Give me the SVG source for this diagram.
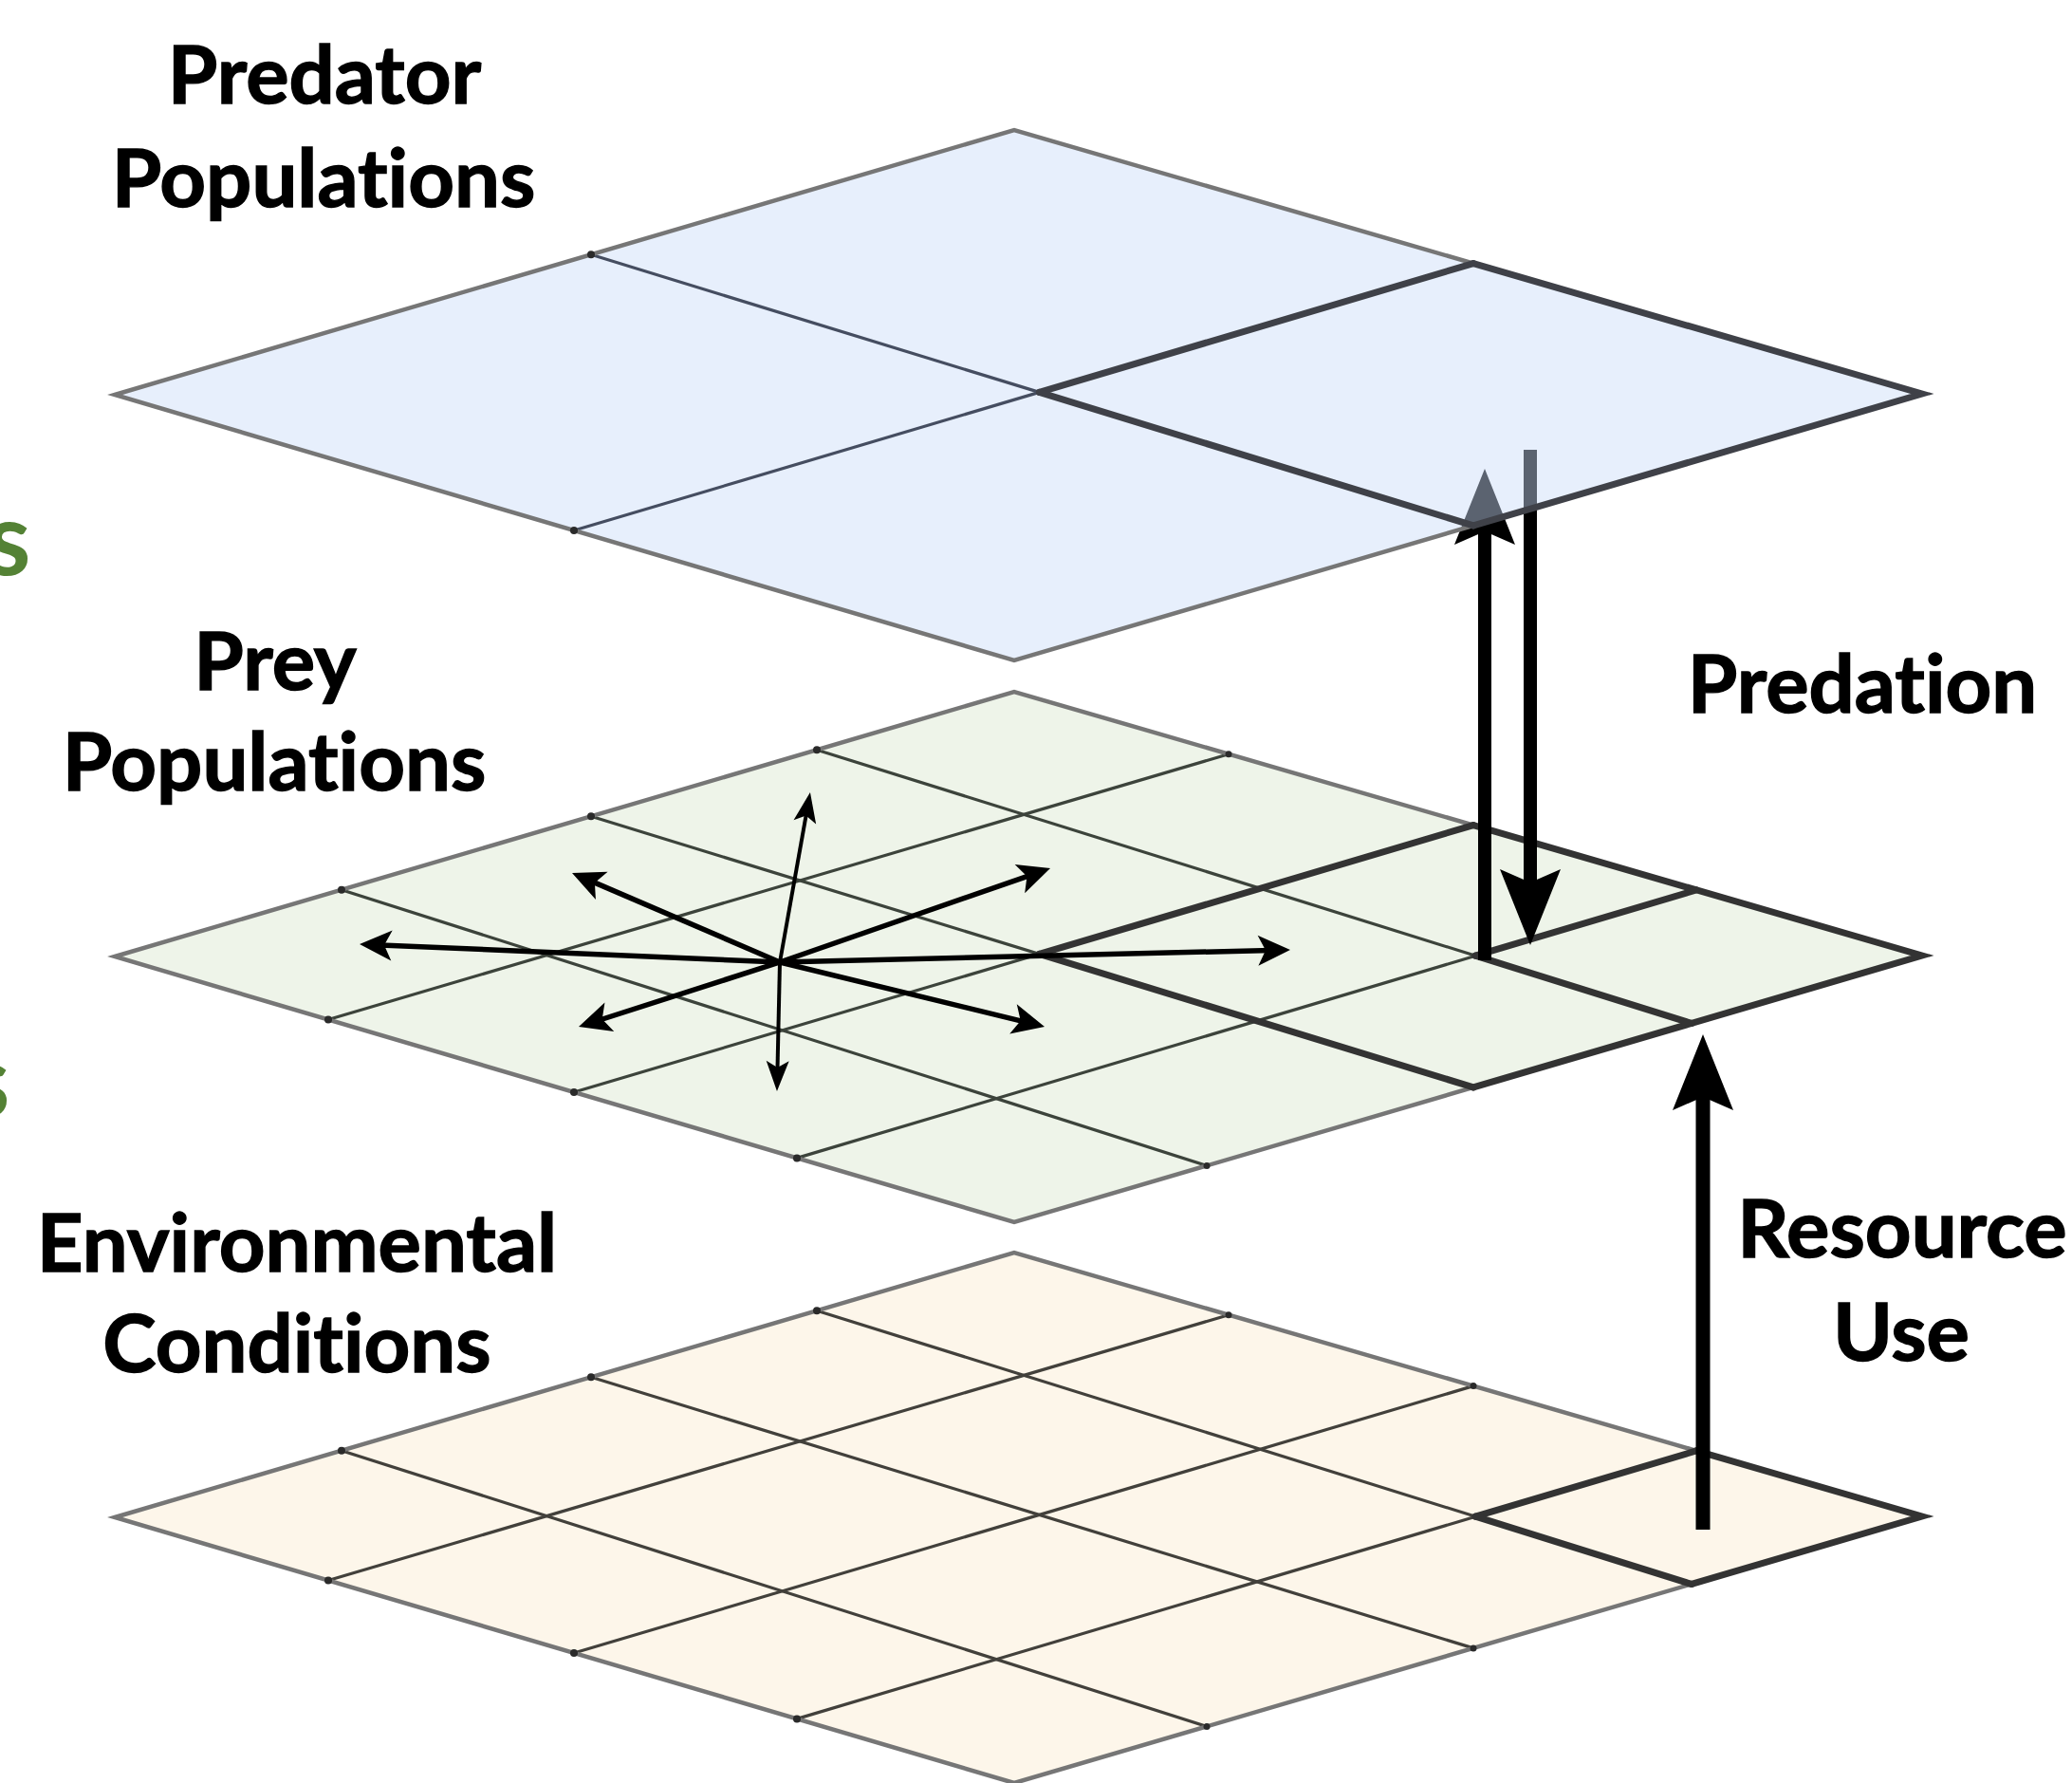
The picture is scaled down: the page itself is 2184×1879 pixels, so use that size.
<svg xmlns="http://www.w3.org/2000/svg" width="2184" height="1879" viewBox="0 0 2184 1879">
<defs>
<style>
.lbl{font-family:Lato,"Open Sans","Liberation Sans",sans-serif;font-weight:700;font-size:85px;fill:#000;stroke:#000;stroke-width:1.4;text-anchor:middle;font-variant-ligatures:none;font-feature-settings:"liga" 0}
.grn{font-family:Lato,"Open Sans","Liberation Sans",sans-serif;font-weight:700;font-size:108px;fill:#548235}
.edge{fill:none;stroke:#767676;stroke-width:4.5;stroke-linejoin:miter}
.grid{stroke:#3c433b;stroke-width:3.2;fill:none}
.gridb{stroke:#454d60;stroke-width:3.2;fill:none}
.thick{stroke:#333;stroke-width:7;fill:none;stroke-linecap:round}
.dot{fill:#2a2a2a}
.big{stroke:#000;stroke-width:14;fill:none}
.star{stroke:#000;stroke-width:5.5;fill:none}
.starv{stroke:#000;stroke-width:4;fill:none}
</style>
<marker id="hBig" markerUnits="userSpaceOnUse" viewBox="-42 -34 84 68" refX="0" refY="0" markerWidth="84" markerHeight="68" orient="auto">
<path d="M40,0 L-40,-32 L-26,0 L-40,32 Z" fill="#000"/>
</marker>
<marker id="hStar" markerUnits="userSpaceOnUse" viewBox="-26 -18 38 36" refX="0" refY="0" markerWidth="38" markerHeight="36" orient="auto">
<path d="M10,0 L-24,-16 L-16,0 L-24,16 Z" fill="#000"/>
</marker>
<marker id="hThin" markerUnits="userSpaceOnUse" viewBox="-24 -14 36 28" refX="0" refY="0" markerWidth="36" markerHeight="28" orient="auto">
<path d="M10,0 L-22,-12 L-15,0 L-22,12 Z" fill="#000"/>
</marker>
</defs>
<rect width="2184" height="1879" fill="#fff"/>

<!-- partial green letters at left border -->
<text class="grn" x="-15" y="606">s</text>
<text class="grn" x="-37" y="1177">s</text>

<!-- Environmental conditions plane -->
<g id="env-plane" transform="translate(0,1183)">
<polygon points="121,416 1069,137 2026,415 1069,696" fill="#fdf6ea" stroke="none"/>
<g class="grid" style="stroke:#42403b">
<line x1="360" y1="345.7" x2="1272" y2="636.4"/>
<line x1="623" y1="268.3" x2="1553" y2="553.9"/>
<line x1="861" y1="198.2" x2="1783" y2="486.4"/>
<line x1="346" y1="482.5" x2="1295" y2="202.7"/>
<line x1="605" y1="559" x2="1553" y2="277.6"/>
<line x1="840" y1="628.4" x2="1788" y2="345.9"/>
</g>
<polygon class="edge" points="121,416 1069,137 2026,415 1069,696"/>
<g class="thick">
<line x1="1555.2" y1="415.2" x2="1788" y2="345.9"/>
<line x1="1555.2" y1="415.2" x2="1783" y2="486.4"/>
<polyline points="1788,345.9 2026,415 1783,486.4"/>
</g>
<g class="dot">
<circle cx="360" cy="345.7" r="4"/><circle cx="623" cy="268.3" r="4"/><circle cx="861" cy="198.2" r="4"/>
<circle cx="346" cy="482.5" r="4"/><circle cx="605" cy="559" r="4"/><circle cx="840" cy="628.4" r="4"/>
<circle cx="1295" cy="202.7" r="3.5"/><circle cx="1553" cy="277.6" r="3.5"/>
<circle cx="1272" cy="636.4" r="3.5"/><circle cx="1553" cy="553.9" r="3.5"/>
</g>
</g>

<!-- Prey populations plane -->
<g id="prey-plane" transform="translate(0,592)">
<polygon points="121,416 1069,137 2026,415 1069,696" fill="#eef4e9" stroke="none"/>
<g class="grid">
<line x1="360" y1="345.7" x2="1272" y2="636.4"/>
<line x1="623" y1="268.3" x2="1553" y2="553.9"/>
<line x1="861" y1="198.2" x2="1783" y2="486.4"/>
<line x1="346" y1="482.5" x2="1295" y2="202.7"/>
<line x1="605" y1="559" x2="1553" y2="277.6"/>
<line x1="840" y1="628.4" x2="1788" y2="345.9"/>
</g>
<polygon class="edge" points="121,416 1069,137 2026,415 1069,696"/>
<g class="thick">
<line x1="1095.5" y1="413.4" x2="1553" y2="277.6"/>
<line x1="1095.5" y1="413.4" x2="1553" y2="553.9"/>
<polyline points="1553,277.6 2026,415 1553,553.9"/>
<line x1="1555.2" y1="415.2" x2="1788" y2="345.9"/>
<line x1="1555.2" y1="415.2" x2="1783" y2="486.4"/>
</g>
<g class="dot">
<circle cx="360" cy="345.7" r="4"/><circle cx="623" cy="268.3" r="4"/><circle cx="861" cy="198.2" r="4"/>
<circle cx="346" cy="482.5" r="4"/><circle cx="605" cy="559" r="4"/><circle cx="840" cy="628.4" r="4"/>
<circle cx="1295" cy="202.7" r="3.5"/><circle cx="1272" cy="636.4" r="3.5"/>
</g>
</g>

<!-- connectors -->
<g id="connectors">
<g id="dispersal">
<line class="starv" x1="822" y1="1014" x2="852.2" y2="844.8" marker-end="url(#hThin)"/>
<line class="starv" x1="822" y1="1014" x2="819.2" y2="1140" marker-end="url(#hThin)"/>
<line class="star" x1="822" y1="1014" x2="389" y2="995.4" marker-end="url(#hStar)"/>
<line class="star" x1="822" y1="1014" x2="1350" y2="1001.2" marker-end="url(#hStar)"/>
<line class="star" x1="822" y1="1014" x2="612.2" y2="923.9" marker-end="url(#hStar)"/>
<line class="star" x1="822" y1="1014" x2="1097.6" y2="918.3" marker-end="url(#hStar)"/>
<line class="star" x1="822" y1="1014" x2="619.5" y2="1079" marker-end="url(#hStar)"/>
<line class="star" x1="822" y1="1014" x2="1091.3" y2="1079.6" marker-end="url(#hStar)"/>
</g>
<line id="resource-use" class="big" style="stroke-width:15" x1="1795" y1="1612" x2="1795" y2="1130" marker-end="url(#hBig)"/>
<line id="predation-up" class="big" x1="1565" y1="1012" x2="1565" y2="534" marker-end="url(#hBig)"/>
<line id="predation-down" class="big" x1="1613" y1="474" x2="1613" y2="956" marker-end="url(#hBig)"/>
</g>

<!-- Predator populations plane -->
<g id="predator-plane">
<polygon points="121,416 1069,137 2026,415 1069,696" fill="#c9dcf8" fill-opacity="0.45" stroke="none"/>
<g class="gridb">
<line x1="623" y1="268.3" x2="1095.5" y2="413.4"/>
<line x1="605" y1="559" x2="1095.5" y2="413.4"/>
</g>
<polygon class="edge" points="121,416 1069,137 2026,415 1069,696"/>
<g class="thick" style="stroke:#3f4148">
<line x1="1095.5" y1="413.4" x2="1553" y2="277.6"/>
<line x1="1095.5" y1="413.4" x2="1553" y2="553.9"/>
<polyline points="1553,277.6 2026,415 1553,553.9"/>
</g>
<g class="dot">
<circle cx="623" cy="268.3" r="4"/><circle cx="605" cy="559" r="4"/>
</g>
</g>

<!-- labels -->
<g id="labels">
<text class="lbl" x="342" y="109">Predator</text>
<text class="lbl" x="341" y="218">Populations</text>
<text class="lbl" x="290" y="727">Prey</text>
<text class="lbl" x="289" y="833">Populations</text>
<text class="lbl" x="313" y="1340">Environmental</text>
<text class="lbl" x="313" y="1446">Conditions</text>
<text class="lbl" x="1963" y="751">Predation</text>
<text class="lbl" x="2005" y="1325">Resource</text>
<text class="lbl" x="2004" y="1434">Use</text>
</g>
</svg>
